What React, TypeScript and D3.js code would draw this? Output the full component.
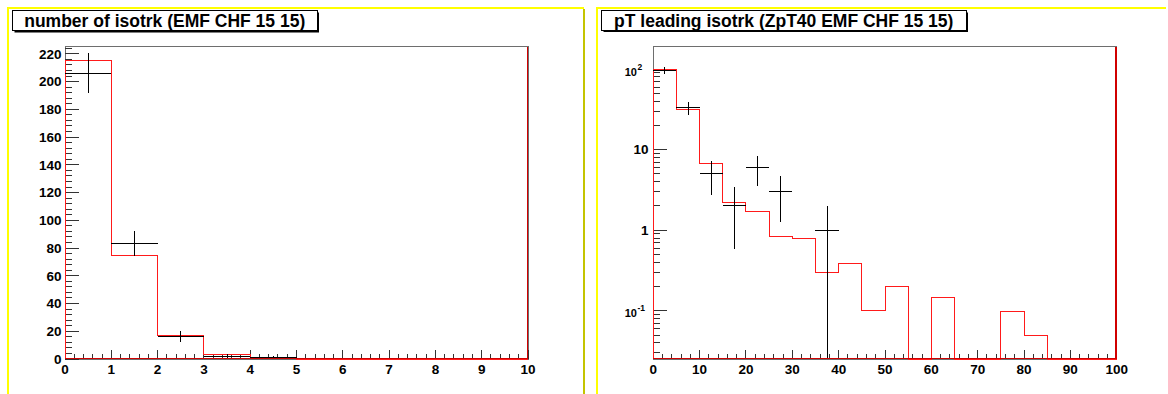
import React from 'react';
import * as d3 from 'd3';

// ---------- data: left panel (number of isotrk) ----------
const nIsoEdges = [0, 1, 2, 3, 4, 5, 6, 7, 8, 9, 10];
const nIsoData = [206, 83, 16, 2, 1, 0, 0, 0, 0, 0];
const nIsoErr = [14.4, 9.1, 4.0, 1.4, 1.0, 0, 0, 0, 0, 0];
const nIsoMC = [215, 74.5, 16.8, 2.9, 0.6, 0, 0, 0, 0, 0];
const nIsoYTicks = [0, 20, 40, 60, 80, 100, 120, 140, 160, 180, 200, 220];
const nIsoXTicks = [0, 1, 2, 3, 4, 5, 6, 7, 8, 9, 10];
const nIsoTitle = 'number of isotrk (EMF CHF 15 15)';

// ---------- data: right panel (pT leading isotrk) ----------
const ptEdges = [0, 5, 10, 15, 20, 25, 30, 35, 40, 45, 50, 55, 60, 65, 70, 75, 80, 85, 90, 95, 100];
const ptData = [96, 33, 5, 2, 6, 3, 0, 1, 0, 0, 0, 0, 0, 0, 0, 0, 0, 0, 0, 0];
const ptErr = [9.8, 5.7, 2.24, 1.41, 2.45, 1.73, 0, 1, 0, 0, 0, 0, 0, 0, 0, 0, 0, 0, 0, 0];
const ptMC = [100, 31.8, 6.8, 2.2, 1.71, 0.83, 0.8, 0.295, 0.39, 0.1, 0.2, 0, 0.147, 0, 0, 0.097, 0.05, 0, 0, 0];
const ptXTicks = [0, 10, 20, 30, 40, 50, 60, 70, 80, 90, 100];
const ptYLabels = [
  { v: 100, base: '10', exp: '2' },
  { v: 10, base: '10', exp: '' },
  { v: 1, base: '1', exp: '' },
  { v: 0.1, base: '10', exp: '-1' },
];
const ptTitle = 'pT leading isotrk (ZpT40 EMF CHF 15 15)';

const FONT = '"Liberation Sans", Arial, Helvetica, sans-serif';
const TICK = '#333';
const FRAME = '#6e6e6e';
const RED = '#ff1a1a';

type Frame = { x0: number; x1: number; y0: number; y1: number };

function histPath(edges: number[], vals: number[], x: (v: number) => number, y: (v: number) => number, bottom: number) {
  let d = `M${x(edges[0])},${bottom}`;
  vals.forEach((v, i) => {
    const yy = v > 0 ? y(v) : bottom;
    d += `L${x(edges[i])},${yy}L${x(edges[i + 1])},${yy}`;
  });
  d += `L${x(edges[edges.length - 1])},${bottom}`;
  return d;
}

function ErrorHist({ edges, vals, errs, x, y, bottom }: any) {
  return (
    <g stroke="#000" strokeWidth={1} shapeRendering="crispEdges">
      {vals.map((v: number, i: number) => {
        if (v <= 0) return null;
        const lo = v - errs[i];
        const yLo = lo > 0 ? Math.min(y(lo), bottom) : bottom;
        const yHi = y(v + errs[i]);
        const xc = (x(edges[i]) + x(edges[i + 1])) / 2;
        return (
          <g key={i}>
            <line x1={x(edges[i])} x2={x(edges[i + 1])} y1={y(v)} y2={y(v)} />
            <line x1={xc} x2={xc} y1={yHi} y2={yLo} />
          </g>
        );
      })}
    </g>
  );
}

function TitleBox({ x0, x1, y0, y1, text }: any) {
  return (
    <g>
      <rect x={x0 + 2} y={y0 + 2} width={x1 - x0} height={y1 - y0} fill="#000" />
      <rect x={x0} y={y0} width={x1 - x0} height={y1 - y0} fill="#fff" stroke="#000" strokeWidth={1} shapeRendering="crispEdges" />
      <text x={(x0 + x1) / 2} y={y0 + 16.5} textAnchor="middle" fontFamily={FONT} fontWeight="bold" fontSize={17.5} fill="#000">
        {text}
      </text>
    </g>
  );
}

function XAxis({ f, x, ticks, sub }: { f: Frame; x: d3.ScaleLinear<number, number>; ticks: number[]; sub: number }) {
  const majLen = 0.03 * (f.y1 - f.y0);
  const step = ticks[1] - ticks[0];
  const minors: number[] = [];
  ticks.slice(0, -1).forEach((t) => {
    for (let k = 1; k < sub; k++) minors.push(t + (k * step) / sub);
  });
  return (
    <g>
      <g stroke={TICK} strokeWidth={1} shapeRendering="crispEdges">
        {ticks.map((t) => (
          <line key={'M' + t} x1={x(t)} x2={x(t)} y1={f.y1} y2={f.y1 - majLen} />
        ))}
        {minors.map((t) => (
          <line key={'m' + t} x1={x(t)} x2={x(t)} y1={f.y1} y2={f.y1 - majLen / 2} />
        ))}
      </g>
      {ticks.map((t) => (
        <text key={'l' + t} x={x(t)} y={f.y1 + 14.5} textAnchor="middle" fontFamily={FONT} fontWeight="bold" fontSize={13.5} fill="#000">
          {t}
        </text>
      ))}
    </g>
  );
}

function LeftPanel() {
  const f: Frame = { x0: 65, x1: 528, y0: 46.5, y1: 359 };
  const x = d3.scaleLinear().domain([0, 10]).range([f.x0, f.x1]);
  const y = d3.scaleLinear().domain([0, 225.3]).range([f.y1, f.y0]);
  const majLen = 0.03 * (f.x1 - f.x0);
  const minors: number[] = [];
  for (let v = 0; v <= 225; v += 4) if (v % 20 !== 0) minors.push(v);
  return (
    <g>
      <rect x={f.x0} y={f.y0} width={f.x1 - f.x0} height={f.y1 - f.y0} fill="#fff" stroke={FRAME} strokeWidth={1} shapeRendering="crispEdges" />
      <g stroke={TICK} strokeWidth={1} shapeRendering="crispEdges">
        {nIsoYTicks.map((t) => (
          <line key={'M' + t} x1={f.x0} x2={f.x0 + majLen} y1={y(t)} y2={y(t)} />
        ))}
        {minors.map((t) => (
          <line key={'m' + t} x1={f.x0} x2={f.x0 + majLen / 2} y1={y(t)} y2={y(t)} />
        ))}
      </g>
      {nIsoYTicks.map((t) => (
        <text key={'l' + t} x={61.5} y={y(t) + 4.8} textAnchor="end" fontFamily={FONT} fontWeight="bold" fontSize={13.5} fill="#000">
          {t}
        </text>
      ))}
      <XAxis f={f} x={x} ticks={nIsoXTicks} sub={5} />
      <path d={histPath(nIsoEdges, nIsoMC, x, y, f.y1)} fill="none" stroke={RED} strokeWidth={1} shapeRendering="crispEdges" />
      <ErrorHist edges={nIsoEdges} vals={nIsoData} errs={nIsoErr} x={x} y={y} bottom={f.y1} />
      <g stroke="#d00000" strokeWidth={1.5} shapeRendering="crispEdges">
        <line x1={f.x0} x2={f.x1} y1={f.y1 - 0.5} y2={f.y1 - 0.5} />
        <line x1={f.x1 - 0.5} x2={f.x1 - 0.5} y1={f.y0} y2={f.y1} />
      </g>
      <TitleBox x0={12.5} x1={317} y0={10.5} y1={30.5} text={nIsoTitle} />
    </g>
  );
}

function RightPanel() {
  const f: Frame = { x0: 653.3, x1: 1116.7, y0: 46.5, y1: 359 };
  const x = d3.scaleLinear().domain([0, 100]).range([f.x0, f.x1]);
  const y = d3.scaleLog().domain([0.0252, 191]).range([f.y1, f.y0]);
  const majLen = 0.03 * (f.x1 - f.x0);
  const minors: number[] = [];
  [0.01, 0.1, 1, 10, 100].forEach((d) => {
    for (let k = 2; k <= 9; k++) {
      const v = k * d;
      if (v >= 0.0252 && v <= 191) minors.push(v);
    }
  });
  return (
    <g>
      <rect x={f.x0} y={f.y0} width={f.x1 - f.x0} height={f.y1 - f.y0} fill="#fff" stroke={FRAME} strokeWidth={1} shapeRendering="crispEdges" />
      <g stroke={TICK} strokeWidth={1} shapeRendering="crispEdges">
        {ptYLabels.map((t) => (
          <line key={'M' + t.v} x1={f.x0} x2={f.x0 + majLen} y1={y(t.v)} y2={y(t.v)} />
        ))}
        {minors.map((t) => (
          <line key={'m' + t} x1={f.x0} x2={f.x0 + majLen / 2} y1={y(t)} y2={y(t)} />
        ))}
      </g>
      {ptYLabels.map((t) =>
        t.exp ? (
          <g key={'l' + t.v} fontFamily={FONT} fontWeight="bold" fill="#000">
            <text x={637} y={y(t.v) + 6.5} textAnchor="end" fontSize={11}>
              {t.base}
            </text>
            <text x={637.5} y={y(t.v) + 0.5} textAnchor="start" fontSize={8.5}>
              {t.exp}
            </text>
          </g>
        ) : (
          <text key={'l' + t.v} x={648.5} y={y(t.v) + 4.6} textAnchor="end" fontFamily={FONT} fontWeight="bold" fontSize={13.5} fill="#000">
            {t.base}
          </text>
        )
      )}
      <XAxis f={f} x={x} ticks={ptXTicks} sub={5} />
      <path d={histPath(ptEdges, ptMC, x, y, f.y1)} fill="none" stroke={RED} strokeWidth={1} shapeRendering="crispEdges" />
      <ErrorHist edges={ptEdges} vals={ptData} errs={ptErr} x={x} y={y} bottom={f.y1} />
      <g stroke="#d00000" strokeWidth={1.5} shapeRendering="crispEdges">
        <line x1={f.x0} x2={f.x1} y1={f.y1 - 0.5} y2={f.y1 - 0.5} />
        <line x1={f.x1 - 0.5} x2={f.x1 - 0.5} y1={f.y0} y2={f.y1} />
      </g>
      <TitleBox x0={601.5} x1={966} y0={10.5} y1={30} text={ptTitle} />
    </g>
  );
}

export default function App() {
  return (
    <svg width={1168} height={394} style={{ position: 'absolute', left: 0, top: 0, background: '#fff' }}>
      <rect x={0} y={0} width={1168} height={394} fill="#fff" />
      {/* pad borders */}
      <g shapeRendering="crispEdges">
        <rect x={7} y={7} width={577} height={2} fill="#ffff00" />
        <rect x={7} y={7} width={2} height={387} fill="#ffff00" />
        <rect x={583} y={9} width={2} height={385} fill="#c4c400" />
        <rect x={596} y={7} width={570} height={2} fill="#ffff00" />
        <rect x={596} y={7} width={2} height={387} fill="#ffff00" />
      </g>
      <LeftPanel />
      <RightPanel />
    </svg>
  );
}
